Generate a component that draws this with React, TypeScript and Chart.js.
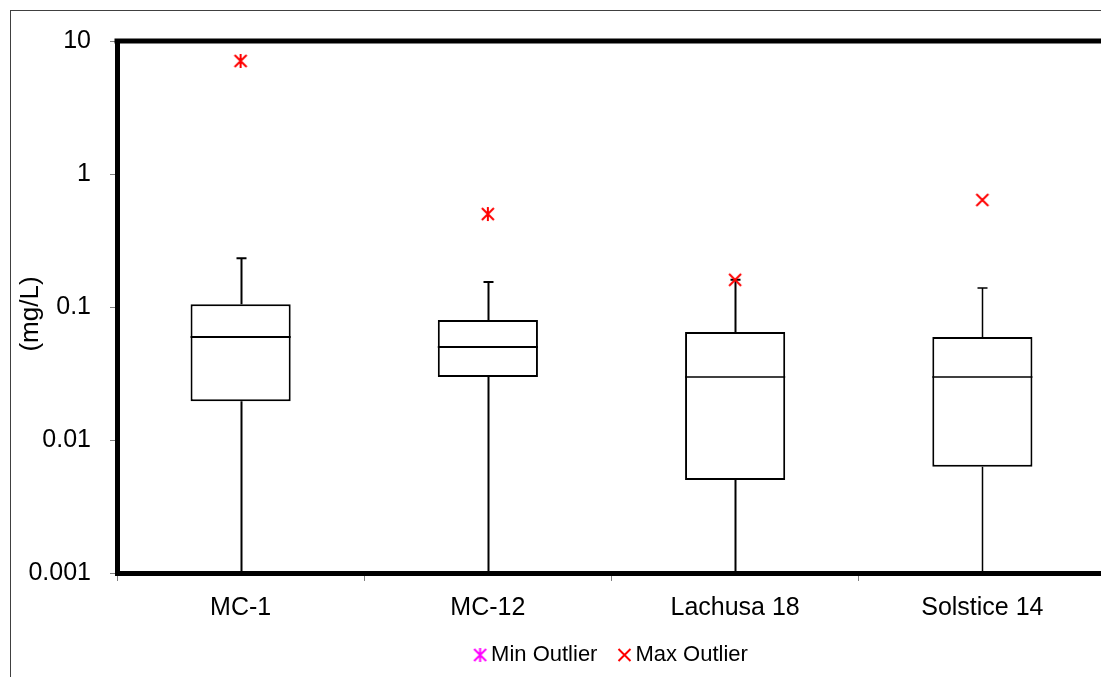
import React, { useEffect, useRef } from 'react';
import { Chart, registerables } from 'chart.js';

Chart.register(...registerables);

const categories = ['MC-1', 'MC-12', 'Lachusa 18', 'Solstice 14'];
const whiskerLow = [0.001, 0.001, 0.001, 0.001];
const q1 = [0.0196, 0.0298, 0.005, 0.0063];
const median = [0.0594, 0.05, 0.0298, 0.0298];
const q3 = [0.105, 0.0798, 0.065, 0.0594];
const whiskerHigh = [0.233, 0.154, 0.16, 0.139];
const maxOutlier = [7.08, 0.5, 0.16, 0.638];
const minOutlier: (number | null)[] = [null, null, null, null];
const yTickValues = [0.001, 0.01, 0.1, 1, 10];
const yTickLabels = ['0.001', '0.01', '0.1', '1', '10'];
const yTitle = '(mg/L)';

const whiskerWidths = [2, 2, 2, 1.5];
const medianWidths = [2, 2, 1.5, 1.5];

function makeMarker(color: string, withVertical: boolean, w = 16, off = 2): HTMLCanvasElement {
  const c = document.createElement('canvas');
  c.width = w;
  c.height = 16;
  const g = c.getContext('2d');
  if (g) {
    g.strokeStyle = color;
    g.lineWidth = 2;
    g.beginPath();
    g.moveTo(off, 2);
    g.lineTo(off + 12, 14);
    g.moveTo(off + 12, 2);
    g.lineTo(off, 14);
    if (withVertical) {
      g.moveTo(off + 6, 1);
      g.lineTo(off + 6, 15);
    }
    g.stroke();
  }
  return c;
}

const boxPlugin = {
  id: 'boxWhiskers',
  beforeDatasetsDraw(chart: any) {
    const { ctx, scales } = chart;
    const x = scales.x;
    const y = scales.y;
    ctx.save();
    ctx.strokeStyle = '#000';
    categories.forEach((_, i) => {
      const cx = Math.round(x.getPixelForValue(i)) + 0.5;
      const hy = y.getPixelForValue(whiskerHigh[i]);
      ctx.lineWidth = whiskerWidths[i];
      ctx.beginPath();
      ctx.moveTo(cx, y.getPixelForValue(q3[i]));
      ctx.lineTo(cx, hy);
      ctx.moveTo(cx, y.getPixelForValue(q1[i]));
      ctx.lineTo(cx, y.getPixelForValue(whiskerLow[i]));
      ctx.moveTo(cx - 5, hy);
      ctx.lineTo(cx + 5, hy);
      ctx.stroke();
    });
    ctx.restore();
  },
  afterDatasetsDraw(chart: any) {
    const { ctx, scales } = chart;
    const y = scales.y;
    const meta = chart.getDatasetMeta(2);
    ctx.save();
    ctx.strokeStyle = '#000';
    categories.forEach((_, i) => {
      const bar = meta.data[i];
      if (!bar) return;
      const my = y.getPixelForValue(median[i]);
      ctx.lineWidth = medianWidths[i];
      ctx.beginPath();
      ctx.moveTo(bar.x - bar.width / 2, my);
      ctx.lineTo(bar.x + bar.width / 2, my);
      ctx.stroke();
    });
    ctx.restore();
  },
  afterDraw(chart: any) {
    const { ctx, chartArea } = chart;
    ctx.save();
    ctx.strokeStyle = '#000';
    ctx.lineWidth = 5;
    ctx.beginPath();
    ctx.moveTo(chartArea.left - 2.5, chartArea.top);
    ctx.lineTo(chartArea.right + 3, chartArea.top);
    ctx.stroke();
    // y-axis title
    ctx.translate(31, 314);
    ctx.rotate(-Math.PI / 2);
    ctx.fillStyle = '#000';
    ctx.font = "26px 'Liberation Sans', Arial, sans-serif";
    ctx.textAlign = 'center';
    ctx.textBaseline = 'middle';
    ctx.fillText(yTitle, 0, 0);
    ctx.restore();
  },
};

export default function App() {
  const ref = useRef<HTMLCanvasElement | null>(null);

  useEffect(() => {
    if (!ref.current) return;
    Chart.defaults.font.family = "'Liberation Sans', Arial, sans-serif";
    const redStar = makeMarker('#ff0000', true);
    const redX = makeMarker('#ff0000', false);
    const legendMagenta = makeMarker('#ff00ff', true, 30, 11.5);
    const legendRed = makeMarker('#ff0000', false, 30, 11.5);
    const chart = new Chart(ref.current, {
      type: 'bar',
      data: {
        labels: categories,
        datasets: [
          {
            type: 'line',
            label: 'Min Outlier',
            data: minOutlier,
            showLine: false,
            pointStyle: legendMagenta,
            borderColor: '#ff00ff',
            backgroundColor: '#ff00ff',
          },
          {
            type: 'line',
            label: 'Max Outlier',
            data: maxOutlier,
            showLine: false,
            pointStyle: [redStar, redStar, redX, redX],
            borderColor: '#ff0000',
            backgroundColor: '#ff0000',
          },
          {
            type: 'bar',
            label: 'Box',
            data: categories.map((_, i) => [q1[i], q3[i]]),
            backgroundColor: '#ffffff',
            borderColor: '#000000',
            borderWidth: 2,
            borderSkipped: false,
            barPercentage: 0.405,
            categoryPercentage: 1,
          },
        ] as any,
      },
      options: {
        responsive: false,
        animation: false,
        layout: { padding: { left: 0, top: 41, right: 5, bottom: 1 } },
        plugins: {
          tooltip: { enabled: false },
          legend: {
            position: 'bottom',
            fullSize: false,
            labels: {
              usePointStyle: true,
              boxWidth: 5,
              boxHeight: 5,
              padding: 22,
              color: '#000',
              font: { size: 22 },
              filter: (item: any) => item.text !== 'Box',
              generateLabels: (chart: any) => {
                const items = Chart.defaults.plugins.legend.labels.generateLabels(chart);
                return items.map((it: any) => ({
                  ...it,
                  pointStyle: it.text === 'Max Outlier' ? legendRed : legendMagenta,
                }));
              },
            },
          },
        },
        scales: {
          x: {
            type: 'category',
            offset: true,
            afterFit: (s: any) => {
              s.height = 49;
            },
            ticks: {
              color: '#000',
              font: { size: 25 },
              padding: 12,
              maxRotation: 0,
              autoSkip: false,
            },
            grid: {
              offset: true,
              drawOnChartArea: false,
              tickLength: 8,
              color: '#808080',
            },
            border: { width: 5, color: '#000' },
          },
          y: {
            type: 'logarithmic',
            min: 0.001,
            max: 10,
            afterBuildTicks: (s: any) => {
              s.ticks = yTickValues.map((v) => ({ value: v }));
            },
            afterFit: (s: any) => {
              s.width = 117;
            },
            ticks: {
              color: '#000',
              font: { size: 25 },
              padding: 19,
              callback: (v: any) => {
                const idx = yTickValues.findIndex(
                  (t) => Math.abs(Math.log10(t) - Math.log10(Number(v))) < 1e-6
                );
                return idx >= 0 ? yTickLabels[idx] : '';
              },
            },
            grid: {
              drawOnChartArea: false,
              tickLength: 7,
              color: '#808080',
            },
            border: { width: 5, color: '#000' },
          },
        },
      } as any,
      plugins: [boxPlugin],
    });
    return () => chart.destroy();
  }, []);

  return (
    <div
      style={{
        position: 'fixed',
        left: 0,
        top: 0,
        width: 1101,
        height: 677,
        overflow: 'hidden',
        background: '#fff',
      }}
    >
      <div
        style={{
          position: 'absolute',
          left: 10,
          top: 10,
          width: 2000,
          height: 2000,
          borderLeft: '1px solid #404040',
          borderTop: '1px solid #404040',
        }}
      />
      <canvas
        ref={ref}
        width={1111}
        height={677}
        style={{ position: 'absolute', left: 0, top: 0 }}
      />
    </div>
  );
}
